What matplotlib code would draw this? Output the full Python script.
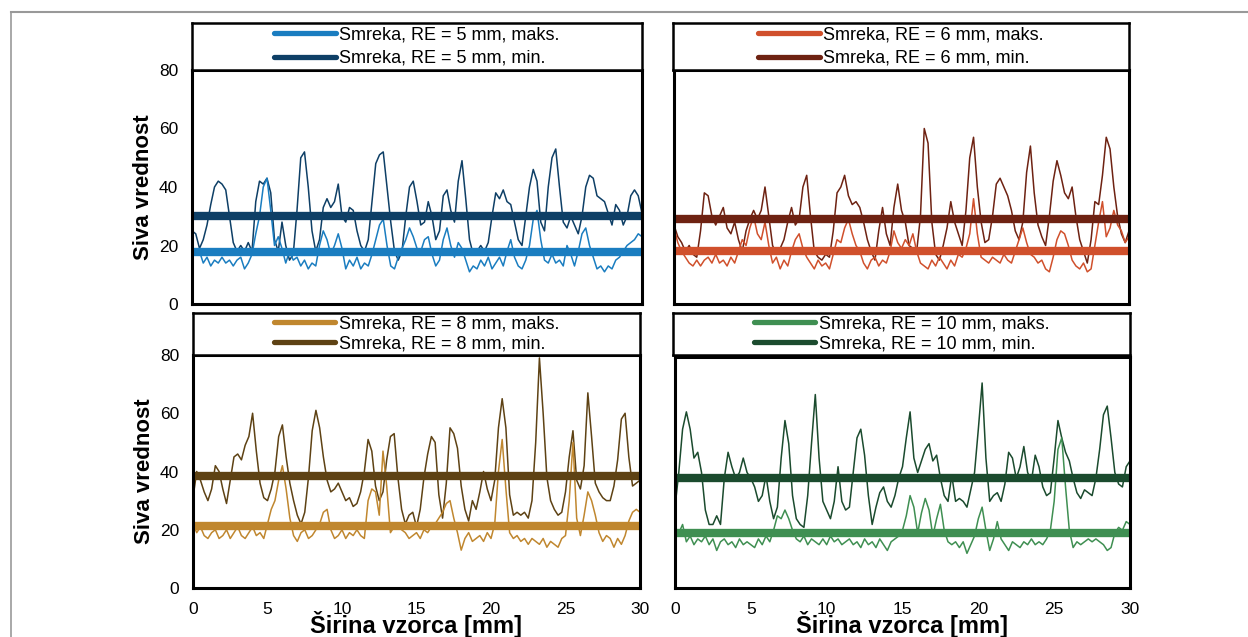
import numpy as np
import matplotlib
matplotlib.use('Agg')
import matplotlib.pyplot as plt
from matplotlib.lines import Line2D

plt.rcParams['font.family'] = ['Liberation Sans', 'DejaVu Sans']

# profili sive vrednosti, korak 0.25 mm (0 .. 30 mm)
tl_min = [25, 24, 19, 22, 27, 34, 40, 42, 41, 39,
          30, 21, 18, 20, 18, 21, 18, 35, 42, 41,
          43, 38, 22, 18, 28, 20, 15, 17, 32, 50,
          52, 40, 25, 18, 22, 33, 36, 33, 35, 41,
          30, 28, 33, 32, 25, 20, 18, 22, 35, 48,
          51, 52, 40, 28, 18, 15, 18, 30, 40, 42,
          35, 27, 28, 35, 30, 22, 25, 37, 39, 32,
          28, 42, 49, 36, 22, 17, 18, 20, 18, 21,
          30, 38, 36, 39, 35, 34, 28, 22, 20, 30,
          40, 46, 42, 28, 25, 40, 50, 53, 40, 28,
          26, 30, 27, 24, 30, 40, 44, 43, 37, 36,
          35, 31, 27, 34, 32, 27, 30, 37, 39, 37,
          31]
tl_max = [20, 17, 18, 14, 16, 13, 15, 14, 16, 14,
          15, 13, 15, 16, 12, 14, 17, 24, 30, 40,
          43, 32, 20, 23, 19, 14, 18, 15, 16, 13,
          15, 12, 14, 13, 20, 25, 22, 17, 20, 24,
          19, 12, 15, 13, 16, 12, 14, 13, 17, 22,
          27, 29, 20, 13, 12, 16, 19, 22, 26, 23,
          19, 18, 22, 23, 17, 13, 15, 22, 26, 20,
          16, 21, 19, 15, 11, 13, 12, 15, 13, 16,
          12, 14, 16, 13, 18, 22, 16, 13, 12, 15,
          20, 29, 32, 22, 15, 14, 17, 14, 15, 13,
          20, 17, 13, 18, 24, 26, 20, 16, 12, 13,
          11, 13, 12, 15, 16, 18, 20, 21, 22, 24,
          23]
tr_min = [27, 23, 21, 18, 20, 17, 16, 25, 38, 37,
          30, 27, 30, 33, 26, 24, 28, 22, 18, 25,
          29, 32, 29, 32, 40, 30, 20, 17, 19, 22,
          28, 33, 27, 29, 40, 44, 30, 18, 16, 15,
          17, 16, 25, 38, 40, 44, 37, 34, 35, 33,
          28, 22, 18, 15, 25, 33, 24, 20, 33, 41,
          32, 28, 20, 19, 18, 30, 60, 55, 28, 17,
          15, 20, 26, 35, 28, 24, 20, 32, 50, 57,
          40, 28, 21, 22, 30, 41, 43, 40, 37, 32,
          25, 22, 28, 45, 54, 38, 27, 23, 20, 30,
          42, 49, 44, 38, 36, 40, 30, 22, 18, 14,
          22, 35, 34, 44, 57, 53, 40, 30, 24, 21,
          25]
tr_max = [26, 21, 18, 16, 14, 13, 15, 13, 15, 16,
          14, 17, 14, 15, 13, 16, 14, 18, 22, 20,
          26, 30, 24, 22, 28, 20, 14, 16, 12, 15,
          13, 18, 22, 24, 19, 16, 14, 12, 15, 13,
          14, 12, 17, 22, 21, 26, 29, 24, 20, 18,
          14, 12, 15, 16, 13, 15, 14, 18, 25, 21,
          19, 22, 20, 24, 18, 14, 13, 12, 15, 13,
          16, 14, 12, 15, 13, 17, 16, 19, 24, 36,
          24, 16, 15, 14, 16, 15, 14, 17, 15, 14,
          18, 22, 26, 21, 17, 16, 14, 15, 12, 11,
          16, 22, 25, 24, 20, 15, 13, 12, 14, 11,
          12, 20, 28, 35, 23, 26, 32, 27, 25, 21,
          23]
bl_min = [31, 40, 37, 33, 30, 34, 42, 40, 34, 29,
          37, 45, 46, 44, 49, 52, 60, 47, 36, 31,
          30, 34, 40, 52, 56, 45, 36, 30, 25, 22,
          26, 38, 54, 61, 55, 45, 37, 33, 34, 36,
          33, 30, 31, 28, 29, 33, 40, 51, 47, 35,
          30, 33, 44, 52, 53, 38, 27, 22, 25, 26,
          21, 27, 38, 46, 52, 50, 32, 24, 36, 55,
          53, 48, 35, 27, 23, 30, 27, 33, 40, 34,
          30, 37, 55, 65, 55, 32, 25, 26, 25, 26,
          24, 30, 50, 79, 60, 38, 30, 27, 25, 26,
          33, 45, 54, 37, 34, 42, 67, 52, 36, 33,
          31, 30, 30, 35, 44, 58, 60, 45, 35, 36,
          37]
bl_max = [22, 19, 21, 18, 17, 19, 20, 17, 18, 20,
          17, 19, 21, 18, 17, 19, 21, 18, 19, 17,
          22, 27, 30, 37, 42, 34, 24, 18, 16, 19,
          20, 17, 18, 20, 22, 26, 27, 20, 17, 18,
          20, 17, 19, 18, 20, 18, 17, 30, 34, 33,
          25, 47, 35, 19, 21, 22, 20, 19, 17, 18,
          19, 17, 20, 19, 21, 22, 24, 26, 29, 30,
          24, 19, 13, 17, 19, 16, 17, 18, 16, 19,
          17, 22, 40, 51, 34, 19, 17, 18, 16, 17,
          15, 17, 16, 15, 17, 14, 16, 15, 14, 17,
          18, 30, 50, 24, 18, 25, 33, 30, 25, 19,
          16, 18, 17, 14, 17, 15, 18, 23, 26, 27,
          26]
br_min = [28, 40, 55, 61, 55, 45, 47, 40, 27, 22,
          22, 25, 22, 38, 47, 42, 38, 40, 45, 40,
          38, 35, 30, 32, 39, 30, 24, 28, 45, 58,
          50, 32, 24, 22, 21, 32, 50, 67, 45, 30,
          27, 24, 30, 42, 30, 27, 28, 40, 52, 55,
          46, 32, 22, 28, 33, 35, 30, 28, 32, 38,
          42, 52, 61, 45, 40, 44, 48, 50, 44, 46,
          38, 32, 30, 39, 30, 31, 30, 28, 34, 40,
          55, 71, 45, 30, 32, 33, 30, 36, 47, 45,
          38, 42, 49, 40, 37, 46, 42, 35, 32, 33,
          45, 58, 52, 47, 44, 38, 33, 31, 34, 33,
          32, 38, 48, 60, 63, 52, 40, 36, 35, 42,
          44]
br_max = [20, 19, 22, 16, 18, 15, 17, 16, 18, 15,
          17, 13, 16, 17, 15, 16, 14, 17, 15, 16,
          15, 14, 17, 15, 18, 16, 20, 25, 24, 27,
          24, 20, 17, 16, 18, 15, 17, 16, 15, 17,
          15, 18, 16, 17, 15, 16, 17, 15, 16, 14,
          17, 15, 16, 14, 17, 15, 13, 16, 17, 18,
          20, 25, 32, 28, 19, 26, 31, 27, 18, 24,
          29, 20, 16, 15, 16, 14, 16, 12, 15, 18,
          24, 28, 20, 13, 17, 23, 17, 15, 13, 16,
          15, 14, 16, 15, 17, 15, 16, 15, 17, 20,
          30, 48, 52, 35, 20, 14, 16, 15, 16, 17,
          16, 17, 16, 15, 13, 14, 19, 21, 20, 23,
          22]

# povprecja (debele crte)
mean_max = [17.8, 18.1, 21.3, 18.9]
mean_min = [30.2, 29.1, 38.5, 38.1]

re_mm = ['5', '6', '8', '10']
col_max = ['#1a7dc0', '#d0502c', '#c0872f', '#3f8f52']
col_min = ['#0e3f66', '#6e2212', '#5e4214', '#1b4b2e']
prof_max = [tl_max, tr_max, bl_max, br_max]
prof_min = [tl_min, tr_min, bl_min, br_min]

yticks = [0, 20, 40, 60, 80]
xticks = [0, 5, 10, 15, 20, 25, 30]

fig = plt.figure(figsize=(12.48, 6.37), dpi=100)
W, H = 1248, 637

# sivi okvir
fig.add_artist(Line2D([11 / W, 1], [1 - 12 / H, 1 - 12 / H], transform=fig.transFigure, color='#999999', lw=1.5))
fig.add_artist(Line2D([11 / W, 11 / W], [0, 1 - 12 / H], transform=fig.transFigure, color='#999999', lw=1.2))

# pozicije v pikslih: (levo, desno, zgoraj, spodaj) za graf in legendo
ax_px = [(192, 642, 70, 304), (674, 1129, 70, 304), (193, 640, 355, 588), (675, 1130, 357, 588)]
lg_px = [(192, 642, 23, 70), (673, 1129, 23, 70), (193, 640, 313, 355), (673, 1130, 313, 355)]

for i in range(4):
    l, r, t, b = ax_px[i]
    ax = fig.add_axes([l / W, 1 - b / H, (r - l) / W, (b - t) / H])
    x = np.linspace(0, 30, len(prof_min[i]))
    ax.plot(x, prof_min[i], color=col_min[i], lw=1.1)
    ax.plot(x, prof_max[i], color=col_max[i], lw=1.1)
    ax.axhline(mean_max[i], color=col_max[i], lw=6)
    ax.axhline(mean_min[i], color=col_min[i], lw=6)
    ax.set_xlim(0, 30)
    ax.set_ylim(0, 80)
    ax.set_xticks(xticks)
    ax.set_yticks(yticks)
    ax.tick_params(length=0, labelsize=12.5, pad=10)
    for s in ax.spines.values():
        s.set_linewidth(2.2)
        s.set_color('black')
    if i % 2 == 0:
        ax.set_ylabel('Siva vrednost', fontsize=16, fontweight='bold')
        ax.yaxis.set_label_coords(-0.085, 0.5)
    else:
        ax.set_yticklabels([])
    if i < 2:
        ax.set_xticklabels([])
    else:
        ax.set_xlabel('Širina vzorca [mm]', fontsize=17, fontweight='bold')
        ax.xaxis.set_label_coords(0.5, -0.1)

    # legenda v svojem okvirju nad grafom
    l, r, t, b = lg_px[i]
    lax = fig.add_axes([l / W, 1 - b / H, (r - l) / W, (b - t) / H])
    lax.set_xticks([])
    lax.set_yticks([])
    for s in lax.spines.values():
        s.set_linewidth(1.8)
        s.set_color('black')
    handles = [Line2D([], [], color=col_max[i], lw=3.8, solid_capstyle='round'),
               Line2D([], [], color=col_min[i], lw=3.8, solid_capstyle='round')]
    labels = ['Smreka, RE = %s mm, maks.' % re_mm[i], 'Smreka, RE = %s mm, min.' % re_mm[i]]
    lax.legend(handles, labels, loc='center', frameon=False, fontsize=13,
               handlelength=3.4, handletextpad=0.2, borderpad=0, borderaxespad=0,
               labelspacing=0.38 if i < 2 else 0.17)

plt.savefig('out.png', dpi=100)
